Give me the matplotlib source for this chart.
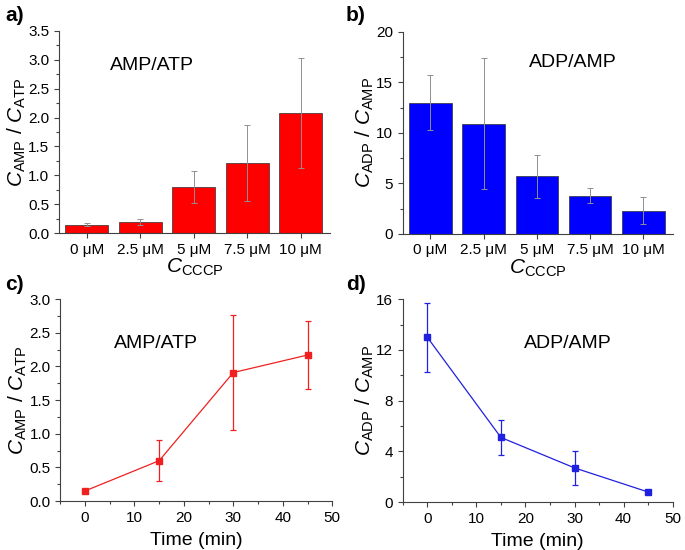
import matplotlib
matplotlib.use("Agg")
import matplotlib.pyplot as plt
from matplotlib.ticker import MultipleLocator

plt.rcParams["font.family"] = ["Liberation Sans", "DejaVu Sans"]
plt.rcParams["mathtext.fontset"] = "custom"
plt.rcParams["mathtext.rm"] = "Liberation Sans"
plt.rcParams["mathtext.it"] = "Liberation Sans:italic"

# concentrations of CCCP (bar panels)
cccp_labels = ["0 μM", "2.5 μM", "5 μM", "7.5 μM", "10 μM"]
amp_atp_bar = [0.15, 0.20, 0.80, 1.21, 2.08]
amp_atp_bar_err = [0.02, 0.05, 0.27, 0.66, 0.95]
adp_amp_bar = [13.0, 10.9, 5.7, 3.75, 2.3]
adp_amp_bar_err = [2.7, 6.5, 2.15, 0.75, 1.35]

# time course (line panels)
time_min = [0, 15, 30, 45]
amp_atp_time = [0.15, 0.60, 1.91, 2.17]
amp_atp_time_err = [0.02, 0.30, 0.85, 0.50]
adp_amp_time = [13.0, 5.1, 2.7, 0.8]
adp_amp_time_err = [2.7, 1.35, 1.35, 0.12]

YLAB_AMP = r"$\mathit{C}_{\mathrm{AMP}}$ / $\mathit{C}_{\mathrm{ATP}}$"
YLAB_ADP = r"$\mathit{C}_{\mathrm{ADP}}$ / $\mathit{C}_{\mathrm{AMP}}$"
XLAB_CCCP = r"$\mathit{C}_{\mathrm{CCCP}}$"
SPINE = "#404040"

fig = plt.figure(figsize=(6.85, 5.5), dpi=100)
ax_a = fig.add_axes([0.086, 0.576, 0.396, 0.368])
ax_b = fig.add_axes([0.588, 0.575, 0.394, 0.367])
ax_c = fig.add_axes([0.088, 0.089, 0.397, 0.367])
ax_d = fig.add_axes([0.588, 0.087, 0.394, 0.369])


def style(ax):
    for side in ("top", "right"):
        ax.spines[side].set_visible(False)
    for side in ("left", "bottom"):
        ax.spines[side].set_color(SPINE)
        ax.spines[side].set_linewidth(0.8)
    ax.tick_params(which="both", direction="out", colors=SPINE, labelcolor="black",
                   labelsize=11, width=0.8)
    ax.tick_params(which="major", length=3.5)
    ax.tick_params(which="minor", length=2)


def bar_panel(ax, vals, errs, color, ylim, major, minor, ylabel, label, lx, ly):
    x = range(len(cccp_labels))
    ax.bar(x, vals, width=0.8, color=color, edgecolor="#303030", linewidth=0.5)
    ax.errorbar(x, vals, yerr=errs, fmt="none", ecolor="#909090", elinewidth=0.7,
                capsize=2, capthick=0.7)
    ax.set_xticks(list(x))
    ax.set_xticklabels(cccp_labels)
    ax.set_xlim(-0.52, 4.55)
    ax.set_ylim(*ylim)
    ax.yaxis.set_major_locator(MultipleLocator(major))
    ax.yaxis.set_minor_locator(MultipleLocator(minor))
    ax.set_ylabel(ylabel, fontsize=15, labelpad=0)
    ax.set_xlabel(XLAB_CCCP, fontsize=15, labelpad=0)
    ax.text(lx, ly, label, transform=ax.transAxes, ha="center", va="center", fontsize=14)
    style(ax)


def line_panel(ax, vals, errs, color, ylim, major, minor, ylabel, label, lx, ly):
    ax.errorbar(time_min, vals, yerr=errs, color=color, marker="s", markersize=4,
                linewidth=0.9, elinewidth=0.9, capsize=2.5, capthick=0.9)
    ax.set_xlim(-5, 50)
    ax.set_ylim(*ylim)
    ax.xaxis.set_major_locator(MultipleLocator(10))
    ax.xaxis.set_minor_locator(MultipleLocator(5))
    ax.yaxis.set_major_locator(MultipleLocator(major))
    ax.yaxis.set_minor_locator(MultipleLocator(minor))
    ax.set_ylabel(ylabel, fontsize=15, labelpad=0)
    ax.set_xlabel("Time (min)", fontsize=14, labelpad=5)
    ax.text(lx, ly, label, transform=ax.transAxes, ha="center", va="center", fontsize=14)
    style(ax)


bar_panel(ax_a, amp_atp_bar, amp_atp_bar_err, "#ff0000", (0, 3.5), 0.5, 0.25,
          YLAB_AMP, "AMP/ATP", 0.343, 0.83)
ax_a.yaxis.set_major_formatter(plt.FormatStrFormatter("%.1f"))
bar_panel(ax_b, adp_amp_bar, adp_amp_bar_err, "#0000ff", (0, 20), 5, 2.5,
          YLAB_ADP, "ADP/AMP", 0.63, 0.85)
line_panel(ax_c, amp_atp_time, amp_atp_time_err, "#f02020", (0, 3.0), 0.5, 0.25,
           YLAB_AMP, "AMP/ATP", 0.35, 0.78)
ax_c.yaxis.set_major_formatter(plt.FormatStrFormatter("%.1f"))
line_panel(ax_d, adp_amp_time, adp_amp_time_err, "#2020e0", (0, 16), 4, 2,
           YLAB_ADP, "ADP/AMP", 0.61, 0.78)

for lab, x, y in [("a)", 0.008, 0.972), ("b)", 0.505, 0.972),
                  ("c)", 0.008, 0.482), ("d)", 0.505, 0.482)]:
    fig.text(x, y, lab, fontsize=15, fontweight="bold", va="center", ha="left")

fig.savefig("out.png", dpi=100)
